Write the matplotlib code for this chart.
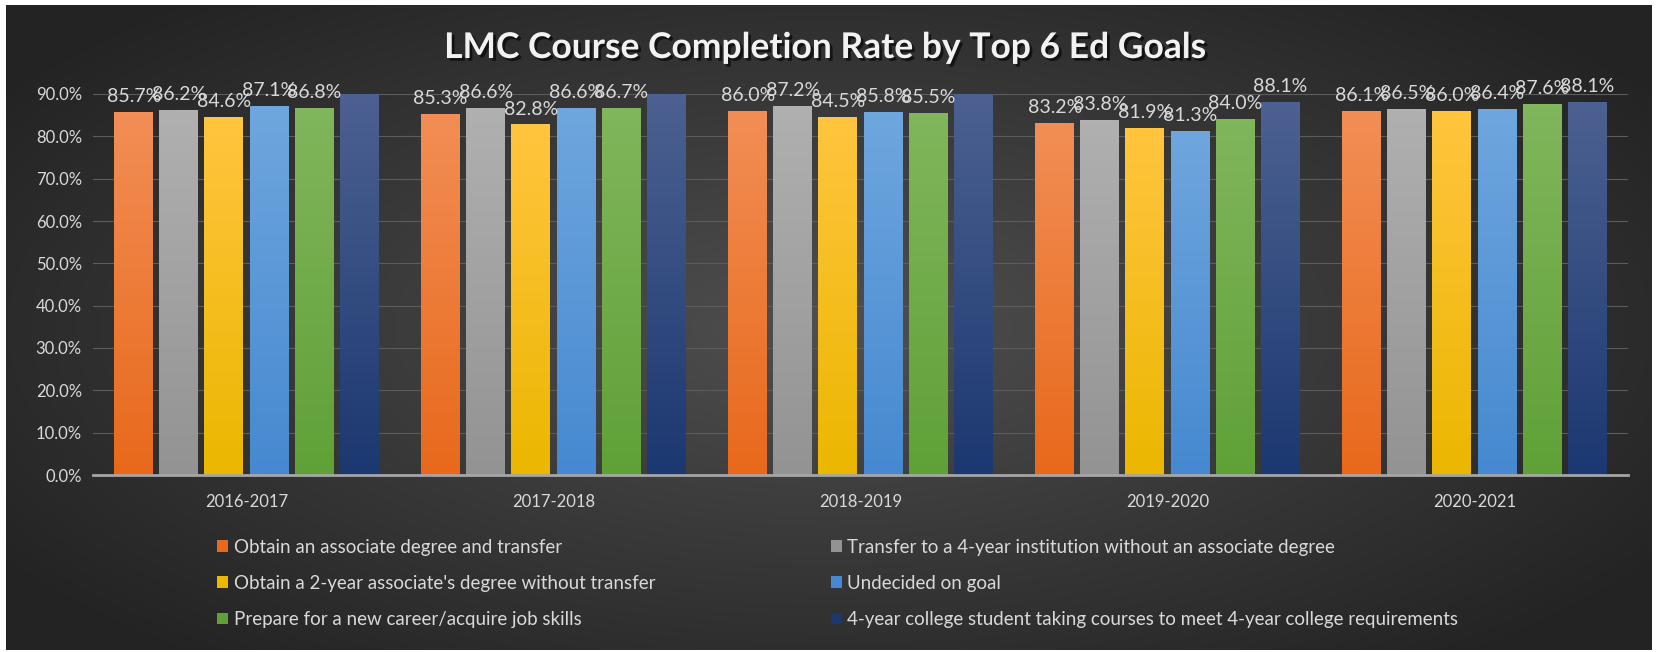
import numpy as np
import matplotlib
matplotlib.use("Agg")
import matplotlib.pyplot as plt
import matplotlib.patheffects as pe
from matplotlib.patches import Patch

years = ["2016-2017", "2017-2018", "2018-2019", "2019-2020", "2020-2021"]
goals = [
    "Obtain an associate degree and transfer",
    "Transfer to a 4-year institution without an associate degree",
    "Obtain a 2-year associate's degree without transfer",
    "Undecided on goal",
    "Prepare for a new career/acquire job skills",
    "4-year college student taking courses to meet 4-year college requirements",
]
# completion rate (%) per goal, one value per year
assoc_transfer = [85.7, 85.3, 86.0, 83.2, 86.1]
transfer_no_assoc = [86.2, 86.6, 87.2, 83.8, 86.5]
two_year = [84.6, 82.8, 84.5, 81.9, 86.0]
undecided = [87.1, 86.6, 85.8, 81.3, 86.4]
career = [86.8, 86.7, 85.5, 84.0, 87.6]
four_year = [91.4, 90.7, 91.0, 88.1, 88.1]   # first three run past the 90% axis top
series = [assoc_transfer, transfer_no_assoc, two_year, undecided, career, four_year]

# (top, bottom) gradient colours per series
grads = [("#f28e55", "#e8691b"), ("#b0b0b0", "#939393"), ("#ffc53f", "#ebb700"),
         ("#6fa6de", "#4689d0"), ("#80b65c", "#60a137"), ("#4c6191", "#1c3870")]

FONT = "Lato"
TXT = "#d9d9d9"
YMAX = 90

fig = plt.figure(figsize=(16.58, 6.52), dpi=100, facecolor="white")

# dark radial background of the chart area
bg = fig.add_axes([6 / 1658, 2 / 652, 1646 / 1658, 645 / 652])
yy, xx = np.mgrid[-1:1:300j, -1:1:700j]
r = np.sqrt(xx ** 2 + (yy * 0.9) ** 2)
shade = np.clip(1 - r / 1.2, 0, 1)
lo, hi = np.array([0.14, 0.14, 0.14]), np.array([0.31, 0.31, 0.31])
img = lo + (hi - lo) * shade[..., None]
bg.imshow(img, aspect="auto", extent=[0, 1, 0, 1])
bg.set_axis_off()

ax = fig.add_axes([93 / 1658, 1 - 475 / 652, (1628 - 93) / 1658, (475 - 94) / 652])
ax.set_facecolor("none")
x = np.arange(len(years))
slot = 0.147
width = 0.127
for i, vals in enumerate(series):
    pos = x + (i - 2.5) * slot
    bars = ax.bar(pos, vals, width, color=grads[i][1], zorder=2)
    top, bot = matplotlib.colors.to_rgb(grads[i][0]), matplotlib.colors.to_rgb(grads[i][1])
    grad = np.linspace(0, 1, 100)[:, None, None]
    gimg = np.array(top) * (1 - grad) + np.array(bot) * grad
    for b, v in zip(bars, vals):
        im = ax.imshow(gimg, aspect="auto", zorder=2.5,
                       extent=[b.get_x(), b.get_x() + b.get_width(), 0, min(v, YMAX)])
        im.set_clip_path(b)
        if v <= YMAX:
            ax.annotate(f"{v:.1f}%", (b.get_x() + b.get_width() / 2, v),
                        xytext=(0, 5), textcoords="offset points", ha="center", va="bottom",
                        color=TXT, fontsize=14, family=FONT, zorder=4)

ax.set_xlim(-0.5, len(years) - 0.5)
ax.set_ylim(0, YMAX)
ax.set_yticks(np.arange(0, 91, 10))
ax.set_yticklabels([f"{t:.1f}%" for t in np.arange(0, 91, 10)])
ax.set_xticks(x)
ax.set_xticklabels(years)
ax.tick_params(length=0, colors=TXT, labelsize=12, pad=8)
ax.tick_params(axis="x", pad=14)
for lab in ax.get_xticklabels() + ax.get_yticklabels():
    lab.set_family(FONT)
ax.grid(axis="y", color="#5c5c5c", lw=0.8, zorder=0)
for s in ["top", "right", "left"]:
    ax.spines[s].set_visible(False)
ax.spines["bottom"].set_color("#a6a6a6")
ax.spines["bottom"].set_linewidth(2)
ax.spines["bottom"].set_zorder(3)

fig.text(0.4975, 1 - 48 / 652, "LMC Course Completion Rate by Top 6 Ed Goals",
         ha="center", va="center", color="#f2f2f2", fontsize=25.5, fontweight="bold",
         family=FONT,
         path_effects=[pe.withSimplePatchShadow(offset=(2, -2), shadow_rgbFace="black", alpha=0.6)])

order = [0, 2, 4, 1, 3, 5]
handles = [Patch(facecolor=grads[i][1], edgecolor="none") for i in order]
labels = [goals[i] for i in order]
leg = fig.legend(handles, labels, ncol=2, loc="upper left",
                 bbox_to_anchor=(200 / 1658, 1 - 522 / 652), frameon=False,
                 handlelength=0.6, handleheight=0.6, handletextpad=0.3,
                 columnspacing=9.35, labelspacing=1.02,
                 prop={"family": FONT, "size": 13.5})
for t in leg.get_texts():
    t.set_color(TXT)

fig.savefig("out.png", dpi=100, facecolor="white")
